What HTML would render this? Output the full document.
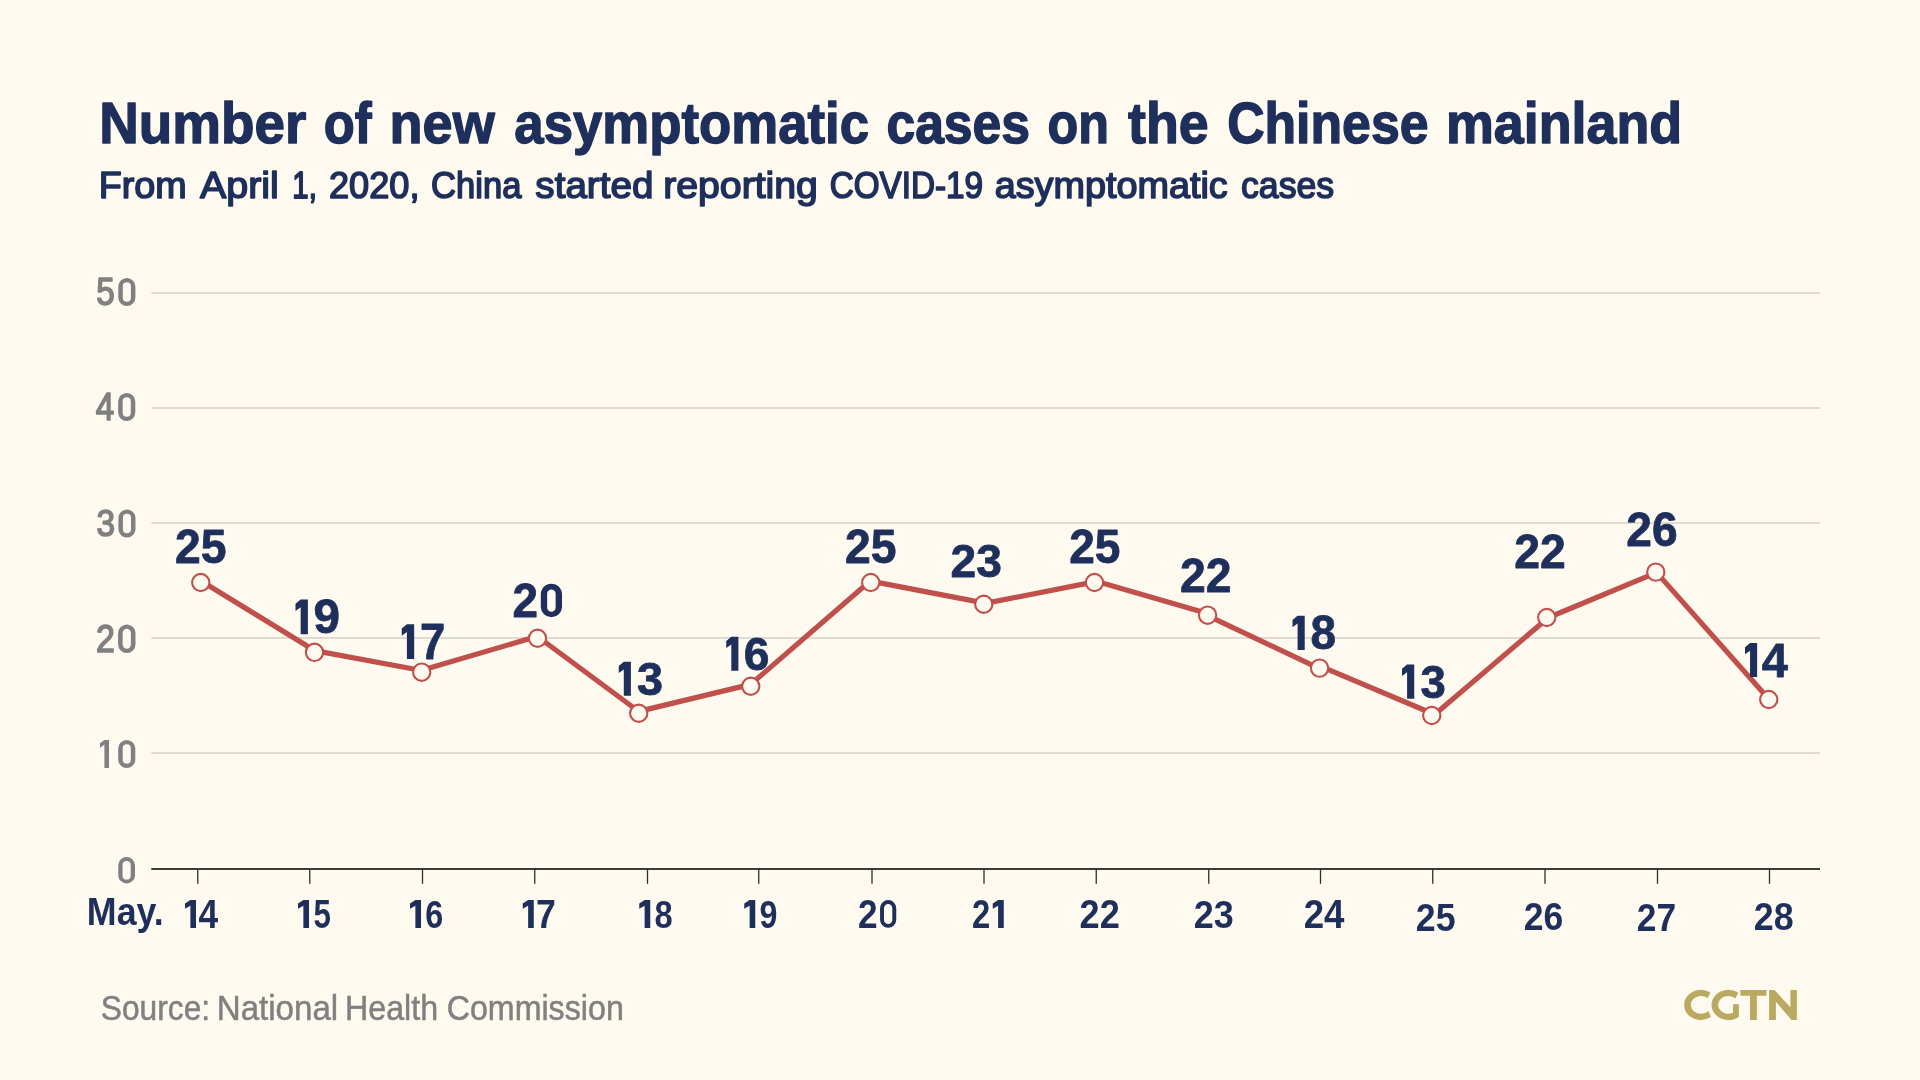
<!DOCTYPE html>
<html><head><meta charset="utf-8"><title>Number of new asymptomatic cases on the Chinese mainland</title>
<style>
html,body{margin:0;padding:0;background:#FFFAF0;}
body{width:1920px;height:1080px;overflow:hidden;font-family:"Liberation Sans",sans-serif;}
svg{display:block;position:absolute;left:0;top:0;will-change:transform;}
text{font-family:"Liberation Sans",sans-serif;}
</style></head><body>
<svg width="1920" height="1080" viewBox="0 0 1920 1080">
<rect x="151.3" y="292" width="1668.7" height="2" fill="#DEDCD0"/>
<rect x="151.3" y="407" width="1668.7" height="2" fill="#DEDCD0"/>
<rect x="151.3" y="522" width="1668.7" height="2" fill="#DEDCD0"/>
<rect x="151.3" y="637" width="1668.7" height="2" fill="#DEDCD0"/>
<rect x="151.3" y="752" width="1668.7" height="2" fill="#DEDCD0"/>
<rect x="151.3" y="868" width="1668.7" height="2" fill="#3C3C3A"/>
<rect x="197.10" y="869" width="1.3" height="14.8" fill="#2E2E2C"/>
<rect x="309.10" y="869" width="1.3" height="14.8" fill="#2E2E2C"/>
<rect x="421.85" y="869" width="1.3" height="14.8" fill="#2E2E2C"/>
<rect x="534.10" y="869" width="1.3" height="14.8" fill="#2E2E2C"/>
<rect x="646.85" y="869" width="1.3" height="14.8" fill="#2E2E2C"/>
<rect x="758.10" y="869" width="1.3" height="14.8" fill="#2E2E2C"/>
<rect x="871.35" y="869" width="1.3" height="14.8" fill="#2E2E2C"/>
<rect x="983.35" y="869" width="1.3" height="14.8" fill="#2E2E2C"/>
<rect x="1095.60" y="869" width="1.3" height="14.8" fill="#2E2E2C"/>
<rect x="1208.10" y="869" width="1.3" height="14.8" fill="#2E2E2C"/>
<rect x="1319.85" y="869" width="1.3" height="14.8" fill="#2E2E2C"/>
<rect x="1432.10" y="869" width="1.3" height="14.8" fill="#2E2E2C"/>
<rect x="1544.35" y="869" width="1.3" height="14.8" fill="#2E2E2C"/>
<rect x="1656.85" y="869" width="1.3" height="14.8" fill="#2E2E2C"/>
<rect x="1768.85" y="869" width="1.3" height="14.8" fill="#2E2E2C"/>
<text transform="translate(96.32,304.87) scale(0.8755,1)" font-size="37.99" font-weight="normal" fill="#808080" stroke="#808080" stroke-width="1.600" stroke-linejoin="round">5</text>
<path fill="#808080" fill-rule="evenodd" d="M126.85 278.00 A8.55 8.55 0 0 1 135.40 286.55 V297.45 A8.55 8.55 0 0 1 118.30 297.45 V286.55 A8.55 8.55 0 0 1 126.85 278.00 Z M126.85 282.20 A4.05 4.05 0 0 1 130.90 286.25 V297.75 A4.05 4.05 0 0 1 122.80 297.75 V286.25 A4.05 4.05 0 0 1 126.85 282.20 Z"/>
<text transform="translate(95.75,420.35) scale(0.8585,1)" font-size="38.69" font-weight="normal" fill="#808080" stroke="#808080" stroke-width="1.614" stroke-linejoin="round">4</text>
<path fill="#808080" fill-rule="evenodd" d="M126.72 393.00 A8.58 8.58 0 0 1 135.30 401.58 V412.52 A8.58 8.58 0 0 1 118.14 412.52 V401.58 A8.58 8.58 0 0 1 126.72 393.00 Z M126.72 397.22 A4.06 4.06 0 0 1 130.78 401.28 V412.82 A4.06 4.06 0 0 1 122.66 412.82 V401.28 A4.06 4.06 0 0 1 126.72 397.22 Z"/>
<text transform="translate(96.50,536.38) scale(0.8881,1)" font-size="37.46" font-weight="normal" fill="#808080" stroke="#808080" stroke-width="1.589" stroke-linejoin="round">3</text>
<path fill="#808080" fill-rule="evenodd" d="M126.95 509.50 A8.55 8.55 0 0 1 135.50 518.05 V528.95 A8.55 8.55 0 0 1 118.40 528.95 V518.05 A8.55 8.55 0 0 1 126.95 509.50 Z M126.95 513.70 A4.05 4.05 0 0 1 131.00 517.75 V529.25 A4.05 4.05 0 0 1 122.90 529.25 V517.75 A4.05 4.05 0 0 1 126.95 513.70 Z"/>
<text transform="translate(96.06,652.25) scale(0.8756,1)" font-size="38.71" font-weight="normal" fill="#808080" stroke="#808080" stroke-width="1.600" stroke-linejoin="round">2</text>
<path fill="#808080" fill-rule="evenodd" d="M126.80 624.50 A8.70 8.70 0 0 1 135.50 633.20 V644.30 A8.70 8.70 0 0 1 118.09 644.30 V633.20 A8.70 8.70 0 0 1 126.80 624.50 Z M126.80 628.77 A4.12 4.12 0 0 1 130.92 632.90 V644.60 A4.12 4.12 0 0 1 122.67 644.60 V632.90 A4.12 4.12 0 0 1 126.80 628.77 Z"/>
<polygon fill="#808080" points="104.40,740.00 109.00,740.00 109.00,768.00 104.40,768.00 104.40,744.59 100.00,747.92 100.00,743.33"/>
<path fill="#808080" fill-rule="evenodd" d="M126.75 740.00 A8.55 8.55 0 0 1 135.30 748.55 V759.45 A8.55 8.55 0 0 1 118.20 759.45 V748.55 A8.55 8.55 0 0 1 126.75 740.00 Z M126.75 744.20 A4.05 4.05 0 0 1 130.80 748.25 V759.75 A4.05 4.05 0 0 1 122.70 759.75 V748.25 A4.05 4.05 0 0 1 126.75 744.20 Z"/>
<path fill="#808080" fill-rule="evenodd" d="M126.62 857.00 A8.38 8.38 0 0 1 135.00 865.38 V875.38 A8.38 8.38 0 0 1 118.25 875.38 V865.38 A8.38 8.38 0 0 1 126.62 857.00 Z M126.62 861.01 A4.08 4.08 0 0 1 130.70 865.09 V875.66 A4.08 4.08 0 0 1 122.55 875.66 V865.09 A4.08 4.08 0 0 1 126.62 861.01 Z"/>
<path fill="none" stroke="#C0504B" stroke-width="5.2" stroke-linecap="round" d="M200.75 580.70 L314.50 650.50 M314.50 650.60 L421.70 670.50 M421.70 670.27 L537.50 636.32 M537.50 636.48 L638.75 711.48 M638.75 711.39 L750.75 684.39 M750.75 684.31 L870.75 580.56 M870.75 581.17 L983.75 602.92 M983.75 603.63 L1094.50 581.88 M1094.50 580.83 L1207.60 613.53 M1207.60 615.67 L1319.55 668.57 M1319.55 665.85 L1431.75 713.25 M1431.75 716.90 L1546.75 618.90 M1546.75 618.23 L1655.80 572.83 M1655.80 571.63 L1768.75 699.03"/>
<circle cx="200.75" cy="582.5" r="8.65" fill="#FFFAF0" stroke="#C0504B" stroke-width="2.1"/>
<circle cx="314.5" cy="652.3" r="8.65" fill="#FFFAF0" stroke="#C0504B" stroke-width="2.1"/>
<circle cx="421.7" cy="672.2" r="8.65" fill="#FFFAF0" stroke="#C0504B" stroke-width="2.1"/>
<circle cx="537.5" cy="638.25" r="8.65" fill="#FFFAF0" stroke="#C0504B" stroke-width="2.1"/>
<circle cx="638.75" cy="713.25" r="8.65" fill="#FFFAF0" stroke="#C0504B" stroke-width="2.1"/>
<circle cx="750.75" cy="686.25" r="8.65" fill="#FFFAF0" stroke="#C0504B" stroke-width="2.1"/>
<circle cx="870.75" cy="582.5" r="8.65" fill="#FFFAF0" stroke="#C0504B" stroke-width="2.1"/>
<circle cx="983.75" cy="604.25" r="8.65" fill="#FFFAF0" stroke="#C0504B" stroke-width="2.1"/>
<circle cx="1094.5" cy="582.5" r="8.65" fill="#FFFAF0" stroke="#C0504B" stroke-width="2.1"/>
<circle cx="1207.6" cy="615.2" r="8.65" fill="#FFFAF0" stroke="#C0504B" stroke-width="2.1"/>
<circle cx="1319.55" cy="668.1" r="8.65" fill="#FFFAF0" stroke="#C0504B" stroke-width="2.1"/>
<circle cx="1431.75" cy="715.5" r="8.65" fill="#FFFAF0" stroke="#C0504B" stroke-width="2.1"/>
<circle cx="1546.75" cy="617.5" r="8.65" fill="#FFFAF0" stroke="#C0504B" stroke-width="2.1"/>
<circle cx="1655.8" cy="572.1" r="8.65" fill="#FFFAF0" stroke="#C0504B" stroke-width="2.1"/>
<circle cx="1768.75" cy="699.5" r="8.65" fill="#FFFAF0" stroke="#C0504B" stroke-width="2.1"/>
<text transform="translate(175.03,563.38) scale(0.9783,1)" font-size="47.28" font-weight="bold" fill="#1E2F5C" stroke="#1E2F5C" stroke-width="0.809" stroke-linejoin="round">25</text>
<polygon fill="#1E2F5C" points="300.66,599.50 307.91,599.50 307.91,634.25 300.66,634.25 300.66,607.35 295.50,611.07 295.50,603.84"/>
<text transform="translate(313.59,633.37) scale(0.9921,1)" font-size="47.99" font-weight="bold" fill="#1E2F5C" stroke="#1E2F5C" stroke-width="0.803" stroke-linejoin="round">9</text>
<polygon fill="#1E2F5C" points="406.91,624.25 414.16,624.25 414.16,659.00 406.91,659.00 406.91,632.10 401.75,635.82 401.75,628.59"/>
<text transform="translate(420.08,658.60) scale(0.9196,1)" font-size="49.38" font-weight="bold" fill="#1E2F5C" stroke="#1E2F5C" stroke-width="0.834" stroke-linejoin="round">7</text>
<text transform="translate(512.55,617.10) scale(0.9699,1)" font-size="47.24" font-weight="bold" fill="#1E2F5C" stroke="#1E2F5C" stroke-width="0.812" stroke-linejoin="round">2</text>
<path fill="#1E2F5C" fill-rule="evenodd" d="M551.39 583.75 A10.61 10.61 0 0 1 562.00 594.36 V606.89 A10.61 10.61 0 0 1 540.79 606.89 V594.36 A10.61 10.61 0 0 1 551.39 583.75 Z M551.39 589.44 A4.24 4.24 0 0 1 555.64 593.68 V607.57 A4.24 4.24 0 0 1 547.15 607.57 V593.68 A4.24 4.24 0 0 1 551.39 589.44 Z"/>
<polygon fill="#1E2F5C" points="623.80,661.75 630.89,661.75 630.89,695.75 623.80,695.75 623.80,669.43 618.75,673.07 618.75,666.00"/>
<text transform="translate(637.04,694.77) scale(0.9997,1)" font-size="46.76" font-weight="bold" fill="#1E2F5C" stroke="#1E2F5C" stroke-width="0.800" stroke-linejoin="round">3</text>
<polygon fill="#1E2F5C" points="731.30,636.75 738.39,636.75 738.39,670.75 731.30,670.75 731.30,644.43 726.25,648.07 726.25,641.00"/>
<text transform="translate(743.86,669.88) scale(0.9830,1)" font-size="46.93" font-weight="bold" fill="#1E2F5C" stroke="#1E2F5C" stroke-width="0.807" stroke-linejoin="round">6</text>
<text transform="translate(845.03,563.38) scale(0.9783,1)" font-size="47.28" font-weight="bold" fill="#1E2F5C" stroke="#1E2F5C" stroke-width="0.809" stroke-linejoin="round">25</text>
<text transform="translate(950.54,577.27) scale(0.9860,1)" font-size="46.76" font-weight="bold" fill="#1E2F5C" stroke="#1E2F5C" stroke-width="0.806" stroke-linejoin="round">23</text>
<text transform="translate(1069.29,563.38) scale(0.9732,1)" font-size="47.28" font-weight="bold" fill="#1E2F5C" stroke="#1E2F5C" stroke-width="0.811" stroke-linejoin="round">25</text>
<text transform="translate(1180.03,591.60) scale(0.9733,1)" font-size="47.60" font-weight="bold" fill="#1E2F5C" stroke="#1E2F5C" stroke-width="0.811" stroke-linejoin="round">22</text>
<polygon fill="#1E2F5C" points="1297.59,615.75 1304.73,615.75 1304.73,650.00 1297.59,650.00 1297.59,623.49 1292.50,627.16 1292.50,620.03"/>
<text transform="translate(1310.49,649.13) scale(0.9713,1)" font-size="47.28" font-weight="bold" fill="#1E2F5C" stroke="#1E2F5C" stroke-width="0.812" stroke-linejoin="round">8</text>
<polygon fill="#1E2F5C" points="1407.09,664.50 1414.23,664.50 1414.23,698.75 1407.09,698.75 1407.09,672.24 1402.00,675.91 1402.00,668.78"/>
<text transform="translate(1420.46,697.76) scale(0.9650,1)" font-size="47.11" font-weight="bold" fill="#1E2F5C" stroke="#1E2F5C" stroke-width="0.814" stroke-linejoin="round">3</text>
<text transform="translate(1514.28,568.35) scale(0.9807,1)" font-size="47.24" font-weight="bold" fill="#1E2F5C" stroke="#1E2F5C" stroke-width="0.808" stroke-linejoin="round">22</text>
<text transform="translate(1626.29,545.88) scale(0.9752,1)" font-size="47.28" font-weight="bold" fill="#1E2F5C" stroke="#1E2F5C" stroke-width="0.810" stroke-linejoin="round">26</text>
<polygon fill="#1E2F5C" points="1750.05,643.00 1757.14,643.00 1757.14,677.00 1750.05,677.00 1750.05,650.68 1745.00,654.32 1745.00,647.25"/>
<text transform="translate(1761.69,676.60) scale(0.9754,1)" font-size="48.29" font-weight="bold" fill="#1E2F5C" stroke="#1E2F5C" stroke-width="0.810" stroke-linejoin="round">4</text>
<polygon fill="#1E2F5C" points="190.38,900.10 196.01,900.10 196.01,928.00 190.38,928.00 190.38,905.68 185.00,908.75 185.00,903.45"/>
<text transform="translate(198.55,928.00) scale(0.8715,1)" font-size="40.58" font-weight="bold" fill="#1E2F5C">4</text>
<polygon fill="#1E2F5C" points="303.38,900.10 309.01,900.10 309.01,928.00 303.38,928.00 303.38,905.68 298.00,908.75 298.00,903.45"/>
<text transform="translate(313.44,927.60) scale(0.7848,1)" font-size="40.00" font-weight="bold" fill="#1E2F5C">5</text>
<polygon fill="#1E2F5C" points="415.38,900.10 421.01,900.10 421.01,928.00 415.38,928.00 415.38,905.68 410.00,908.75 410.00,903.45"/>
<text transform="translate(425.17,927.61) scale(0.8208,1)" font-size="39.43" font-weight="bold" fill="#1E2F5C">6</text>
<polygon fill="#1E2F5C" points="528.13,900.10 533.76,900.10 533.76,928.00 528.13,928.00 528.13,905.68 522.75,908.75 522.75,903.45"/>
<text transform="translate(536.08,928.00) scale(0.8810,1)" font-size="40.58" font-weight="bold" fill="#1E2F5C">7</text>
<polygon fill="#1E2F5C" points="644.63,900.10 650.26,900.10 650.26,928.00 644.63,928.00 644.63,905.68 639.25,908.75 639.25,903.45"/>
<text transform="translate(654.57,927.61) scale(0.8299,1)" font-size="39.43" font-weight="bold" fill="#1E2F5C">8</text>
<polygon fill="#1E2F5C" points="749.63,900.10 755.26,900.10 755.26,928.00 749.63,928.00 749.63,905.68 744.25,908.75 744.25,903.45"/>
<text transform="translate(759.50,927.61) scale(0.8166,1)" font-size="39.43" font-weight="bold" fill="#1E2F5C">9</text>
<text transform="translate(858.02,928.00) scale(0.8814,1)" font-size="40.00" font-weight="bold" fill="#1E2F5C">2</text>
<path fill="#1E2F5C" fill-rule="evenodd" d="M888.15 900.10 A8.10 8.10 0 0 1 896.25 908.20 V919.90 A8.10 8.10 0 0 1 880.06 919.90 V908.20 A8.10 8.10 0 0 1 888.15 900.10 Z M888.15 904.05 A4.15 4.15 0 0 1 892.30 908.20 V919.90 A4.15 4.15 0 0 1 884.00 919.90 V908.20 A4.15 4.15 0 0 1 888.15 904.05 Z"/>
<text transform="translate(972.10,928.00) scale(0.8207,1)" font-size="40.00" font-weight="bold" fill="#1E2F5C">2</text>
<polygon fill="#1E2F5C" points="998.12,900.10 1003.75,900.10 1003.75,928.00 998.12,928.00 998.12,905.68 992.74,908.75 992.74,903.45"/>
<text transform="translate(1079.48,928.00) scale(0.9058,1)" font-size="40.00" font-weight="bold" fill="#1E2F5C">22</text>
<text transform="translate(1193.74,927.51) scale(0.9176,1)" font-size="39.30" font-weight="bold" fill="#1E2F5C">23</text>
<text transform="translate(1303.72,928.00) scale(0.9171,1)" font-size="40.00" font-weight="bold" fill="#1E2F5C">24</text>
<text transform="translate(1415.75,931.36) scale(0.9210,1)" font-size="38.87" font-weight="bold" fill="#1E2F5C">25</text>
<text transform="translate(1523.75,930.36) scale(0.9153,1)" font-size="38.87" font-weight="bold" fill="#1E2F5C">26</text>
<text transform="translate(1636.76,930.75) scale(0.8966,1)" font-size="39.43" font-weight="bold" fill="#1E2F5C">27</text>
<text transform="translate(1753.74,930.36) scale(0.9232,1)" font-size="38.87" font-weight="bold" fill="#1E2F5C">28</text>
<text transform="translate(86.84,925.00) scale(0.9110,1)" font-size="39.27" font-weight="bold" fill="#1E2F5C">May.</text>
<text transform="translate(99.20,143.20) scale(0.9464,1)" font-size="57.90" font-weight="bold" fill="#1E2F5C" stroke="#1E2F5C" stroke-width="1.439" stroke-linejoin="round">Number</text>
<text transform="translate(323.67,143.20) scale(0.8760,1)" font-size="57.90" font-weight="bold" fill="#1E2F5C" stroke="#1E2F5C" stroke-width="1.493" stroke-linejoin="round">of</text>
<text transform="translate(389.58,143.20) scale(0.9340,1)" font-size="57.90" font-weight="bold" fill="#1E2F5C" stroke="#1E2F5C" stroke-width="1.448" stroke-linejoin="round">new</text>
<text transform="translate(514.32,143.20) scale(0.9114,1)" font-size="57.90" font-weight="bold" fill="#1E2F5C" stroke="#1E2F5C" stroke-width="1.465" stroke-linejoin="round">asymptomatic</text>
<text transform="translate(886.43,143.20) scale(0.8917,1)" font-size="57.90" font-weight="bold" fill="#1E2F5C" stroke="#1E2F5C" stroke-width="1.480" stroke-linejoin="round">cases</text>
<text transform="translate(1047.49,143.20) scale(0.8697,1)" font-size="57.90" font-weight="bold" fill="#1E2F5C" stroke="#1E2F5C" stroke-width="1.498" stroke-linejoin="round">on</text>
<text transform="translate(1128.03,143.20) scale(0.9271,1)" font-size="57.90" font-weight="bold" fill="#1E2F5C" stroke="#1E2F5C" stroke-width="1.453" stroke-linejoin="round">the</text>
<text transform="translate(1227.13,143.20) scale(0.8940,1)" font-size="57.90" font-weight="bold" fill="#1E2F5C" stroke="#1E2F5C" stroke-width="1.478" stroke-linejoin="round">Chinese</text>
<text transform="translate(1445.95,143.20) scale(0.9298,1)" font-size="57.90" font-weight="bold" fill="#1E2F5C" stroke="#1E2F5C" stroke-width="1.451" stroke-linejoin="round">mainland</text>
<text transform="translate(98.69,198.00) scale(1.0056,1)" font-size="37.50" font-weight="normal" fill="#1E2F5C" stroke="#1E2F5C" stroke-width="1.595" stroke-linejoin="round">From</text>
<text transform="translate(199.95,198.00) scale(1.0522,1)" font-size="37.50" font-weight="normal" fill="#1E2F5C" stroke="#1E2F5C" stroke-width="1.559" stroke-linejoin="round">April</text>
<text transform="translate(292.34,198.00) scale(0.7850,1)" font-size="37.50" font-weight="normal" fill="#1E2F5C" stroke="#1E2F5C" stroke-width="1.793" stroke-linejoin="round">1,</text>
<text transform="translate(328.99,198.00) scale(0.9640,1)" font-size="37.50" font-weight="normal" fill="#1E2F5C" stroke="#1E2F5C" stroke-width="1.629" stroke-linejoin="round">2020,</text>
<text transform="translate(431.07,198.00) scale(0.9231,1)" font-size="37.50" font-weight="normal" fill="#1E2F5C" stroke="#1E2F5C" stroke-width="1.664" stroke-linejoin="round">China</text>
<text transform="translate(535.34,198.00) scale(1.0302,1)" font-size="37.50" font-weight="normal" fill="#1E2F5C" stroke="#1E2F5C" stroke-width="1.576" stroke-linejoin="round">started</text>
<text transform="translate(663.15,198.00) scale(1.0460,1)" font-size="37.50" font-weight="normal" fill="#1E2F5C" stroke="#1E2F5C" stroke-width="1.564" stroke-linejoin="round">reporting</text>
<text transform="translate(829.64,198.00) scale(0.8878,1)" font-size="37.50" font-weight="normal" fill="#1E2F5C" stroke="#1E2F5C" stroke-width="1.695" stroke-linejoin="round">COVID-19</text>
<text transform="translate(994.69,198.00) scale(1.0076,1)" font-size="37.50" font-weight="normal" fill="#1E2F5C" stroke="#1E2F5C" stroke-width="1.594" stroke-linejoin="round">asymptomatic</text>
<text transform="translate(1241.03,198.00) scale(0.9510,1)" font-size="37.50" font-weight="normal" fill="#1E2F5C" stroke="#1E2F5C" stroke-width="1.640" stroke-linejoin="round">cases</text>
<text transform="translate(100.82,1019.75) scale(0.8836,1)" font-size="35.90" font-weight="normal" fill="#808080" stroke="#808080" stroke-width="0.531" stroke-linejoin="round">Source:</text>
<text transform="translate(216.77,1019.75) scale(0.9219,1)" font-size="35.90" font-weight="normal" fill="#808080" stroke="#808080" stroke-width="0.520" stroke-linejoin="round">National</text>
<text transform="translate(345.10,1019.75) scale(0.8963,1)" font-size="35.90" font-weight="normal" fill="#808080" stroke="#808080" stroke-width="0.527" stroke-linejoin="round">Health</text>
<text transform="translate(446.64,1019.75) scale(0.8975,1)" font-size="35.90" font-weight="normal" fill="#808080" stroke="#808080" stroke-width="0.527" stroke-linejoin="round">Commission</text>
<g fill="#BAAA61">
<path d="M1710.39 992.38 A16.8 15.1 0 1 0 1710.87 1017.12 L1708.50 1010.94 A10.2 8.9 0 1 1 1707.60 998.11 Z"/>
<path d="M1738.34 992.76 A16.8 15.1 0 1 0 1738.9 1016.65 L1738.9 1004.2 L1733.0 1004.2 L1733.0 1012.82 A10.2 8.9 0 1 1 1735.40 998.47 Z"/>
<path d="M1740.4 990.1 H1766.4 V995.8 H1756.9 V1019.9 H1750.0 V995.8 H1740.4 Z"/>
<path d="M1769.1 990.1 H1774.5 L1790.4 1007.2 V990.1 H1796.9 V1019.9 H1791.4 L1775.9 1001.85 V1019.9 H1769.1 Z"/>
</g>
</svg>
</body></html>
